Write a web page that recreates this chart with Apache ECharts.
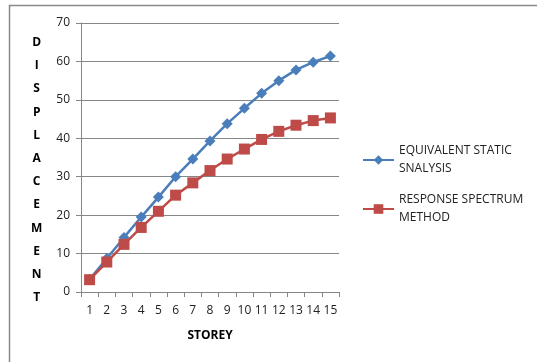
<!DOCTYPE html>
<html>
<head>
<meta charset="utf-8">
<script src="https://cdn.jsdelivr.net/npm/echarts@6/dist/echarts.min.js"></script>
<style>
  html, body { margin: 0; padding: 0; background: #fff; }
  #chart { width: 537px; height: 362px; }
</style>
</head>
<body>
<div id="chart"></div>
<script>
// Storey numbers along the x axis
const storeys = ['1','2','3','4','5','6','7','8','9','10','11','12','13','14','15'];
// Lateral displacement per storey for each analysis method
const equivalentStatic = [3.3, 8.7, 14.2, 19.5, 24.7, 30.0, 34.6, 39.3, 43.8, 47.8, 51.7, 55.0, 57.8, 59.8, 61.4];
const responseSpectrum = [3.2, 7.8, 12.4, 16.8, 21.0, 25.2, 28.4, 31.6, 34.6, 37.2, 39.7, 41.8, 43.4, 44.6, 45.3];
const seriesNames = ['EQUIVALENT STATIC SNALYSIS', 'RESPONSE SPECTRUM METHOD'];
const legendLines = {
  'EQUIVALENT STATIC SNALYSIS': 'EQUIVALENT STATIC\nSNALYSIS',
  'RESPONSE SPECTRUM METHOD': 'RESPONSE SPECTRUM\nMETHOD'
};
const yTitle = 'DISPLACEMENT';

const FONT = 'Open Sans';
const AXIS_GRAY = '#868686';

const chart = echarts.init(document.getElementById('chart'), null, { renderer: 'canvas' });

chart.setOption({
  animation: false,
  backgroundColor: '#fff',
  grid: { left: 81, right: 198, top: 23, bottom: 70, containLabel: false },
  graphic: [
    {
      type: 'rect',
      shape: { x: 9.5, y: 5.5, width: 600, height: 400 },
      style: { fill: 'none', stroke: '#8a8a8a', lineWidth: 1.5 },
      silent: true
    },
    {
      type: 'text',
      left: 31,
      top: 31,
      style: {
        text: yTitle.split('').join('\n'),
        font: 'bold 12px "' + FONT + '"',
        lineHeight: 23.2,
        fill: '#000',
        textAlign: 'center'
      }
    }
  ],
  legend: {
    orient: 'vertical',
    left: 357,
    top: 137,
    itemWidth: 31,
    itemHeight: 12,
    itemGap: 13,
    data: seriesNames,
    formatter: name => legendLines[name],
    textStyle: { fontFamily: FONT, fontSize: 12, color: '#222', lineHeight: 18 }
  },
  xAxis: {
    type: 'category',
    data: storeys,
    boundaryGap: true,
    name: 'STOREY',
    nameLocation: 'middle',
    nameGap: 38,
    nameTextStyle: { fontFamily: FONT, fontSize: 12, fontWeight: 'bold', color: '#000' },
    axisLine: { lineStyle: { color: AXIS_GRAY, width: 1 } },
    axisTick: { show: true, alignWithLabel: false, length: 5, lineStyle: { color: AXIS_GRAY } },
    axisLabel: { fontFamily: FONT, fontSize: 12, color: '#222', margin: 13, interval: 0 },
    splitLine: { show: false }
  },
  yAxis: {
    type: 'value',
    min: 0,
    max: 70,
    interval: 10,
    axisLine: { show: true, lineStyle: { color: AXIS_GRAY, width: 1 } },
    axisTick: { show: true, length: 5, lineStyle: { color: AXIS_GRAY } },
    axisLabel: { fontFamily: FONT, fontSize: 12, color: '#222', margin: 11 },
    splitLine: { show: true, lineStyle: { color: AXIS_GRAY, width: 1 } }
  },
  series: [
    {
      name: seriesNames[0],
      type: 'line',
      data: equivalentStatic,
      color: '#4a7ebb',
      symbol: 'diamond',
      symbolSize: 11,
      lineStyle: { width: 2.5 },
      itemStyle: { color: '#4a7ebb' },
      z: 2
    },
    {
      name: seriesNames[1],
      type: 'line',
      data: responseSpectrum,
      color: '#be4b48',
      symbol: 'rect',
      symbolSize: 11,
      lineStyle: { width: 2.5 },
      itemStyle: { color: '#be4b48' },
      z: 3
    }
  ]
});
</script>
</body>
</html>
